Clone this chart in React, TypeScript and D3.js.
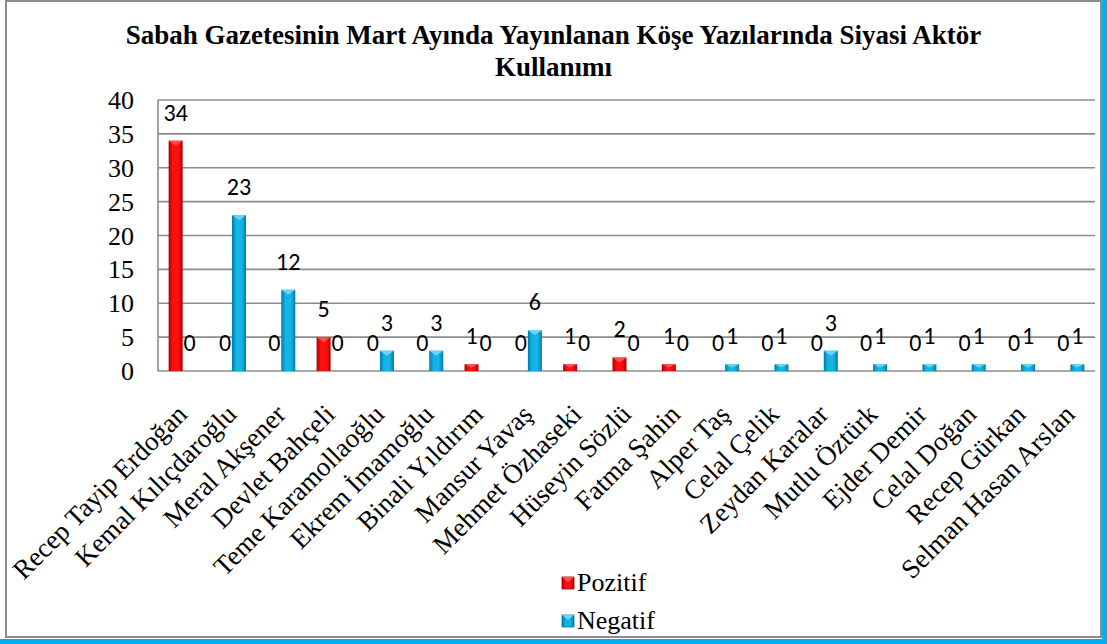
import React from "react";
import * as d3 from "d3";

const categories = [
  "Recep Tayip Erdoğan",
  "Kemal Kılıçdaroğlu",
  "Meral Akşener",
  "Devlet Bahçeli",
  "Teme Karamollaoğlu",
  "Ekrem İmamoğlu",
  "Binali Yıldırım",
  "Mansur Yavaş",
  "Mehmet Özhaseki",
  "Hüseyin Sözlü",
  "Fatma Şahin",
  "Alper Taş",
  "Celal Çelik",
  "Zeydan Karalar",
  "Mutlu Öztürk",
  "Ejder Demir",
  "Celal Doğan",
  "Recep Gürkan",
  "Selman Hasan Arslan",
];
const pozitif = [34, 0, 0, 5, 0, 0, 1, 0, 1, 2, 1, 0, 0, 0, 0, 0, 0, 0, 0];
const negatif = [0, 23, 12, 0, 3, 3, 0, 6, 0, 0, 0, 1, 1, 3, 1, 1, 1, 1, 1];
const seriesNames = ["Pozitif", "Negatif"];
const yTicks = [0, 5, 10, 15, 20, 25, 30, 35, 40];
const titleLines = [
  "Sabah Gazetesinin Mart Ayında Yayınlanan Köşe Yazılarında Siyasi Aktör",
  "Kullanımı",
];

const W = 1107;
const H = 644;
const serif = "Liberation Serif";
const sans = "Carlito";

const palette = {
  Pozitif: { dark: "#a80000", mid: "#ff1010", light: "#ff6060" },
  Negatif: { dark: "#0079a8", mid: "#14b4e6", light: "#7fdcf8" },
};

const plotLeft = 158;
const plotRight = 1095;
const plotTop = 100;
const plotBottom = 371;

const App = () => {
  const x = d3.scaleBand().domain(categories).range([plotLeft, plotRight]);
  const x1 = d3
    .scaleBand()
    .domain(seriesNames)
    .range([0, x.bandwidth()])
    .paddingOuter(0.76);
  const y = d3.scaleLinear().domain([0, 40]).range([plotBottom, plotTop]);
  const bw = x1.bandwidth();

  const rows = categories.map((c, i) => ({
    cat: c,
    vals: [
      { key: "Pozitif", value: pozitif[i] },
      { key: "Negatif", value: negatif[i] },
    ],
  }));

  return (
    <svg
      width={W}
      height={H}
      style={{ position: "absolute", left: 0, top: 0, display: "block" }}
    >
      <defs>
        {seriesNames.map((s) => (
          <linearGradient key={s} id={`grad-${s}`} x1="0%" x2="100%">
            <stop offset="0%" stopColor={palette[s].dark} />
            <stop offset="30%" stopColor={palette[s].mid} />
            <stop offset="70%" stopColor={palette[s].mid} />
            <stop offset="100%" stopColor={palette[s].dark} />
          </linearGradient>
        ))}
      </defs>

      {/* frame */}
      <rect width={W} height={H} fill="#fff" />
      <rect x={1102} y={0} width={5} height={H} fill="#00b0f0" />
      <rect x={0} y={639} width={W} height={5} fill="#00b0f0" />
      <rect
        x={6}
        y={1}
        width={1095}
        height={636}
        fill="none"
        stroke="#8c8c8c"
        strokeWidth={2}
      />

      {/* title */}
      <text
        textAnchor="middle"
        style={{ fontFamily: serif, fontWeight: "bold", fontSize: 27 }}
      >
        {titleLines.map((t, i) => (
          <tspan key={i} x={W / 2} y={44 + i * 32}>
            {t}
          </tspan>
        ))}
      </text>

      {/* grid */}
      {yTicks.map((t) => (
        <line
          key={t}
          x1={plotLeft}
          x2={plotRight}
          y1={y(t)}
          y2={y(t)}
          stroke="#8c8c8c"
          strokeWidth={1.6}
        />
      ))}
      <line
        x1={plotLeft}
        x2={plotLeft}
        y1={plotTop}
        y2={plotBottom}
        stroke="#8c8c8c"
        strokeWidth={1.6}
      />

      {/* y ticks */}
      {yTicks.map((t) => (
        <text
          key={t}
          x={134}
          y={y(t) + 9}
          textAnchor="end"
          style={{ fontFamily: serif, fontSize: 26 }}
        >
          {t}
        </text>
      ))}

      {/* bars */}
      {rows.map((r) => (
        <g key={r.cat} transform={`translate(${x(r.cat)},0)`}>
          {r.vals.map((d) => {
            const x0 = x1(d.key);
            const top = y(d.value);
            const cap = Math.min(5, (y(0) - top) / 2);
            return (
              <g key={d.key}>
                {d.value > 0 && (
                  <>
                    <rect
                      x={x0}
                      y={top}
                      width={bw}
                      height={y(0) - top}
                      fill={`url(#grad-${d.key})`}
                    />
                    <path
                      d={`M${x0},${top}L${x0 + bw},${top}L${x0 + bw / 2},${top + cap}Z`}
                      fill={palette[d.key].light}
                      opacity={0.8}
                    />
                  </>
                )}
                <text
                  x={x0 + bw / 2}
                  y={top - 20}
                  textAnchor="middle"
                  style={{ fontFamily: sans, fontSize: 24 }}
                >
                  {d.value}
                </text>
              </g>
            );
          })}
        </g>
      ))}

      {/* category labels */}
      {categories.map((c) => (
        <text
          key={c}
          transform={`translate(${x(c) + x.bandwidth() / 2 + 6},416) rotate(-45)`}
          textAnchor="end"
          style={{ fontFamily: serif, fontSize: 27 }}
        >
          {c}
        </text>
      ))}

      {/* legend */}
      {seriesNames.map((s, i) => (
        <g key={s} transform={`translate(562,${577 + i * 38})`}>
          <rect
            width={12}
            height={12}
            fill={`url(#grad-${s})`}
            stroke={palette[s].dark}
            strokeWidth={0.8}
          />
          <path d="M0,0L12,0L6,5Z" fill={palette[s].light} opacity={0.8} />
          <text x={15} y={14} style={{ fontFamily: serif, fontSize: 26 }}>
            {s}
          </text>
        </g>
      ))}
    </svg>
  );
};

export default App;
